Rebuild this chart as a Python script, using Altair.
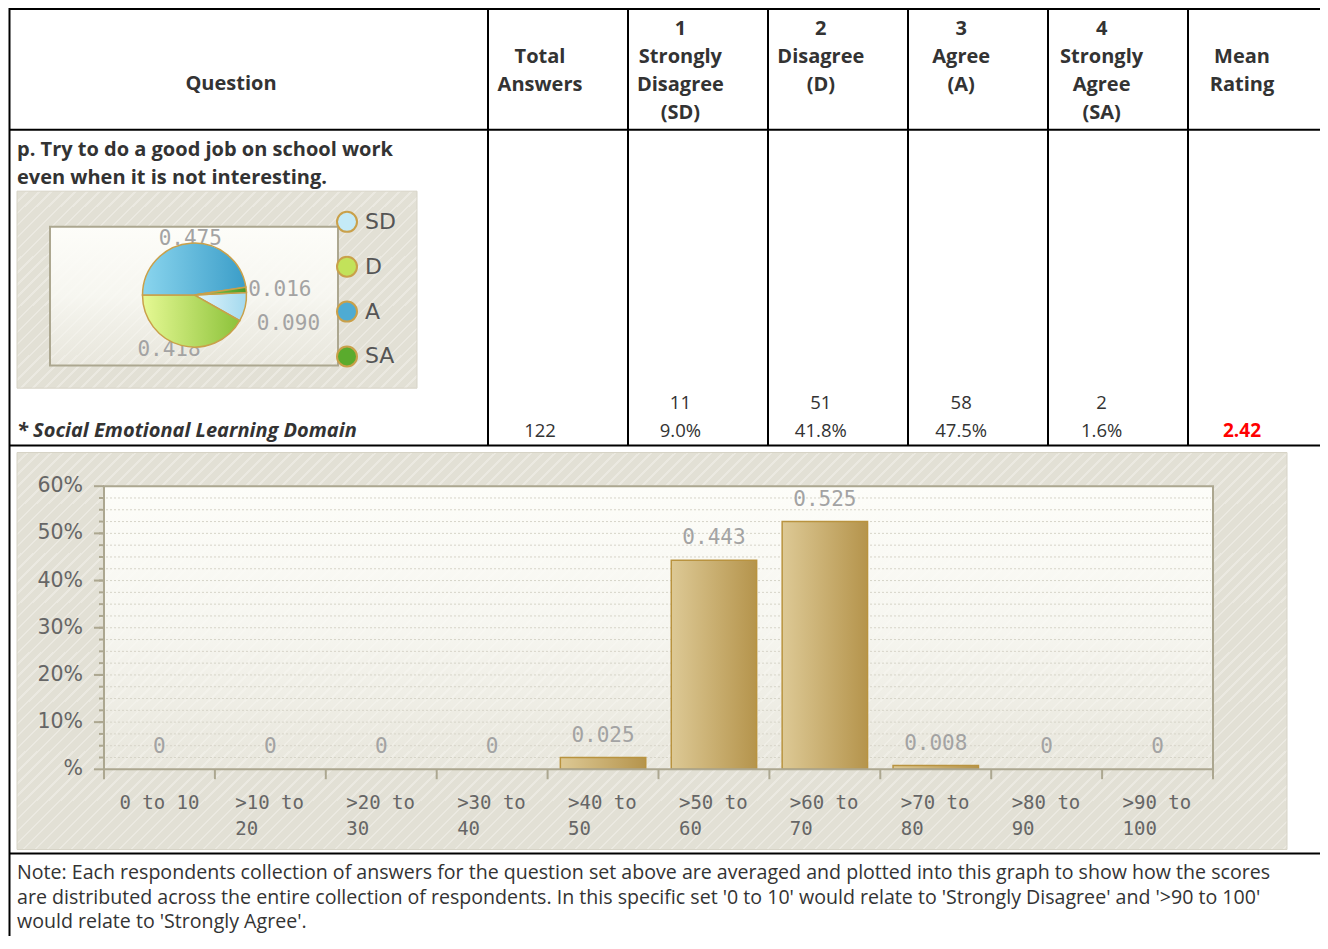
import math
import altair as alt
import pandas as pd

# ---------------- data ----------------
options = ["SD", "D", "A", "SA"]
option_counts = [11, 51, 58, 2]
option_pcts = ["9.0%", "41.8%", "47.5%", "1.6%"]
total_answers = "122"
mean_rating = "2.42"
pie_shares = [0.090, 0.418, 0.475, 0.016]

bins = ["0 to 10", ">10 to 20", ">20 to 30", ">30 to 40", ">40 to 50",
        ">50 to 60", ">60 to 70", ">70 to 80", ">80 to 90", ">90 to 100"]
bin_shares = [0, 0, 0, 0, 0.025, 0.443, 0.525, 0.008, 0, 0]

y_ticks = [0, 0.1, 0.2, 0.3, 0.4, 0.5, 0.6]
y_tick_labels = ["%", "10%", "20%", "30%", "40%", "50%", "60%"]
grid_levels = [0.025, 0.05, 0.075, 0.1, 0.125, 0.15, 0.175, 0.2, 0.225, 0.25,
               0.275, 0.3, 0.325, 0.35, 0.375, 0.4, 0.425, 0.45, 0.475, 0.5,
               0.525, 0.55, 0.575]

table_cols = ["total", "SD", "D", "A", "SA", "mean"]
header_labels = ["\nTotal\nAnswers\n", "1\nStrongly\nDisagree\n(SD)", "2\n\nDisagree\n(D)",
                 "3\n\nAgree\n(A)", "4\nStrongly\nAgree\n(SA)", "\nMean\nRating\n"]
question_lines = ["p. Try to do a good job on school work", "even when it is not interesting."]
domain_text = "* Social Emotional Learning Domain"
note_lines = [
    "Note: Each respondents collection of answers for the question set above are averaged and plotted into this graph to show how the scores",
    "are distributed across the entire collection of respondents. In this specific set '0 to 10' would relate to 'Strongly Disagree' and '>90 to 100'",
    "would relate to 'Strongly Agree'.",
]

# ---------------- layout helpers ----------------
W, H = 1312, 928


def X(x):
    return x - 5.0


def Y(y):
    return 1 + (y - 5) * 0.99


MONO = "DejaVu Sans Mono"
SANS = "Open Sans"
dummy = pd.DataFrame({"d": [0]})


def rect(x0, y0, x1, y1, **kw):
    return alt.Chart(dummy).mark_rect(**kw).encode(
        x=alt.value(X(x0)), x2=alt.value(X(x1)), y=alt.value(Y(y0)), y2=alt.value(Y(y1)))


def hline(x0, x1, y, **kw):
    return alt.Chart(dummy).mark_rule(**kw).encode(
        x=alt.value(X(x0)), x2=alt.value(X(x1)), y=alt.value(Y(y)))


def vline(x, y0, y1, **kw):
    return alt.Chart(dummy).mark_rule(**kw).encode(
        x=alt.value(X(x)), y=alt.value(Y(y0)), y2=alt.value(Y(y1)))


def label(text, x, y, **kw):
    return alt.Chart(dummy).mark_text(text=text, **kw).encode(
        x=alt.value(X(x)), y=alt.value(Y(y)))


def hgrad(c0, c1):
    return alt.LinearGradient(gradient="linear", x1=0, y1=0, x2=1, y2=0,
                              stops=[alt.GradientStop(color=c0, offset=0),
                                     alt.GradientStop(color=c1, offset=1)])


def vgrad(stops):
    return alt.LinearGradient(gradient="linear", x1=0, y1=0, x2=0, y2=1,
                              stops=[alt.GradientStop(color=c, offset=o) for o, c in stops])


def hatch(w, h, period=12.0, line=2.5, bg="#e2e0d5", fg="#ebe9e1"):
    r = h / w
    s = (w + h) / (w * (1 + r * r))
    n = int((w + h) / period) + 1
    dt = period / (w + h)
    stops = []
    for k in range(n):
        a = min(k * dt, 1)
        b = min(k * dt + dt * (1 - line / period), 1)
        c = min((k + 1) * dt, 1)
        stops += [alt.GradientStop(color=bg, offset=a), alt.GradientStop(color=bg, offset=b),
                  alt.GradientStop(color=fg, offset=b), alt.GradientStop(color=fg, offset=c)]
    return alt.LinearGradient(gradient="linear", x1=0, y1=0, x2=s, y2=s * r, stops=stops)


layers = []

# ---------------- panels ----------------
plot_overlay = vgrad([(0, "rgba(253,253,249,1)"), (0.5, "rgba(250,250,245,0.85)"),
                      (1, "rgba(246,245,238,0.3)")])
AXIS_C = "#aca790"

# pie panel
layers.append(rect(14, 189, 414, 388, fill=hatch(400, 199), stroke="#d6d3c6", strokeWidth=1))
layers.append(rect(47, 225, 335, 365, fill=plot_overlay, stroke=AXIS_C, strokeWidth=2))
# bar panel
layers.append(rect(14, 453, 1284, 854, fill=hatch(1270, 401), stroke="#d6d3c6", strokeWidth=1))
layers.append(rect(101, 487, 1210, 773, fill=plot_overlay))

# ---------------- bar chart ----------------
bar_df = pd.DataFrame({"bin": bins, "share": bin_shares})
x_band = alt.Scale(domain=bins, range=[X(101), X(1210)], paddingInner=0.23, paddingOuter=0.115)
x_cells = alt.Scale(domain=bins, range=[X(101), X(1210)], paddingInner=0, paddingOuter=0)
y_lin = alt.Scale(domain=[0, 0.6], range=[Y(773), Y(487)], nice=False, zero=False)

grid_df = pd.DataFrame({"v": grid_levels})
layers.append(alt.Chart(grid_df).mark_rule(color="#d6d4c8", strokeWidth=1, strokeDash=[2, 2]).encode(
    y=alt.Y("v:Q", scale=y_lin, axis=None), x=alt.value(X(103)), x2=alt.value(X(1208))))

layers.append(alt.Chart(bar_df).transform_filter("datum.share > 0").mark_bar(
    fill=hgrad("#ddc995", "#b5944c"), stroke="#b9933f", strokeWidth=1.5).encode(
    x=alt.X("bin:N", scale=x_band, axis=None),
    y=alt.Y("share:Q", scale=y_lin, axis=None)))

# plot frame / axes
layers.append(rect(101, 487, 1210, 773, fill="transparent", stroke=AXIS_C, strokeWidth=2))
layers.append(alt.Chart(grid_df).mark_rule(color=AXIS_C, strokeWidth=2).encode(
    y=alt.Y("v:Q", scale=y_lin, axis=None), x=alt.value(X(96)), x2=alt.value(X(101))))
tick_df = pd.DataFrame({"v": y_ticks, "lbl": y_tick_labels})
layers.append(alt.Chart(tick_df).mark_rule(color=AXIS_C, strokeWidth=2).encode(
    y=alt.Y("v:Q", scale=y_lin, axis=None), x=alt.value(X(91)), x2=alt.value(X(101))))
layers.append(alt.Chart(tick_df).mark_text(font="DejaVu Sans", fontSize=20.5, color="#666666",
                                           align="right", baseline="middle").encode(
    y=alt.Y("v:Q", scale=y_lin, axis=None), x=alt.value(X(80)), text="lbl:N"))

layers.append(alt.Chart(bar_df).mark_rule(color=AXIS_C, strokeWidth=2).encode(
    x=alt.X("bin:N", scale=x_cells, axis=None, bandPosition=0),
    y=alt.value(Y(773)), y2=alt.value(Y(783))))
layers.append(alt.Chart(bar_df).transform_filter(alt.datum.bin == bins[-1]).mark_rule(
    color=AXIS_C, strokeWidth=2).encode(
    x=alt.X("bin:N", scale=x_cells, axis=None, bandPosition=1),
    y=alt.value(Y(773)), y2=alt.value(Y(783))))

layers.append(alt.Chart(bar_df).transform_filter(alt.datum.bin == bins[0]).mark_text(
    font=MONO, fontSize=19, color="#666666", align="center", baseline="alphabetic").encode(
    x=alt.X("bin:N", scale=x_band, axis=None), y=alt.value(Y(813)), text="bin:N"))
layers.append(alt.Chart(bar_df).transform_filter(alt.datum.bin != bins[0]).transform_calculate(
    lbl="replace(datum.bin, ' to ', ' to\\n')").mark_text(
    font=MONO, fontSize=19, color="#666666", align="left", baseline="alphabetic",
    lineBreak="\n", lineHeight=26, dx=-35).encode(
    x=alt.X("bin:N", scale=x_band, axis=None), y=alt.value(Y(813)), text="lbl:N"))

layers.append(alt.Chart(bar_df).transform_calculate(
    lbl="datum.share == 0 ? '0' : format(datum.share, '.3f')").mark_text(
    font=MONO, fontSize=21, color="#a3a3a3", baseline="middle", dy=-22).encode(
    x=alt.X("bin:N", scale=x_band, axis=None),
    y=alt.Y("share:Q", scale=y_lin, axis=None), text="lbl:N"))

# ---------------- pie chart ----------------
CX, CY, R = X(191.5), Y(294), 52
START = math.radians(87)
theta_scale = alt.Scale(domain=[0, 1], range=[START, START + 2 * math.pi])
pie_df = pd.DataFrame({"opt": options, "share": pie_shares, "idx": [0, 1, 2, 3]})
pie_base = alt.Chart(pie_df).transform_window(
    cum="sum(share)", sort=[alt.SortField("idx")], frame=[None, 0]
).transform_joinaggregate(tot="sum(share)").transform_calculate(
    t0="(datum.cum - datum.share) / datum.tot",
    t1="datum.cum / datum.tot",
    tm="(datum.cum - datum.share / 2) / datum.tot",
    lbl="format(datum.share, '.3f')")

pie_label_layout = {"SD": (64, "left", 0, 14), "D": (57, "center", -11, 0),
                    "A": (56, "center", 0, 0), "SA": (54, "left", 0, 0)}
for o in options:
    rr, al, ddx, ddy = pie_label_layout[o]
    layers.append(pie_base.transform_filter(alt.datum.opt == o).mark_text(
        radius=rr, align=al, baseline="middle", dx=ddx, dy=ddy,
        font=MONO, fontSize=21, color="#a3a3a3").encode(
        theta=alt.Theta("tm:Q", scale=theta_scale, stack=None),
        x=alt.value(CX), y=alt.value(CY), text="lbl:N"))

slice_fill = {"SD": hgrad("#e2f5fc", "#a3d9ee"), "D": hgrad("#e6f994", "#8cc23a"),
              "A": hgrad("#8ad5ee", "#3b9dc8"), "SA": hgrad("#86cf52", "#4a9a28")}
for o in options:
    layers.append(pie_base.transform_filter(alt.datum.opt == o).mark_arc(
        outerRadius=R, fill=slice_fill[o], stroke="#c9a04a", strokeWidth=1.5).encode(
        theta=alt.Theta("t0:Q", scale=theta_scale, stack=None), theta2="t1:Q",
        x=alt.value(CX), y=alt.value(CY)))

leg_scale = alt.Scale(domain=options, range=[Y(220), Y(356)], type="point", padding=0)
leg_df = pd.DataFrame({"opt": options})
layers.append(alt.Chart(leg_df).mark_point(filled=True, size=400, shape="circle", opacity=1,
                                           stroke="#c9a04a", strokeWidth=2).encode(
    y=alt.Y("opt:N", scale=leg_scale, axis=None), x=alt.value(X(344)),
    color=alt.Color("opt:N", scale=alt.Scale(domain=options,
                                             range=["#c4eaf7", "#c2e25a", "#4eabd3", "#5aab2d"]),
                    legend=None)))
layers.append(alt.Chart(leg_df).mark_text(font="DejaVu Sans", fontSize=22, color="#555555",
                                          align="left", baseline="middle").encode(
    y=alt.Y("opt:N", scale=leg_scale, axis=None), x=alt.value(X(362)), text="opt:N"))

# ---------------- table ----------------
LINE = dict(color="#000000", strokeWidth=2)
for yy in [5, 127, 446, 858]:
    layers.append(hline(6, 1335, yy, **LINE))
layers.append(vline(6.5, 4, 960, **LINE))
for xx in [485, 625, 765, 905, 1045, 1185]:
    layers.append(vline(xx, 4, 446, **LINE))

col_scale = alt.Scale(domain=table_cols, range=[X(537), X(1239)], type="point", padding=0)
hdr_df = pd.DataFrame({"col": table_cols, "txt": header_labels})
layers.append(label("Question", 228, 81, font=SANS, fontSize=20, fontWeight="bold",
                    color="#333333", baseline="middle"))
layers.append(alt.Chart(hdr_df).mark_text(font=SANS, fontSize=20, fontWeight="bold", color="#333333",
                                          baseline="middle", lineBreak="\n", lineHeight=28).encode(
    x=alt.X("col:N", scale=col_scale, axis=None), y=alt.value(Y(25)), text="txt:N"))

layers.append(label(question_lines, 14, 147, font=SANS, fontSize=20, fontWeight="bold",
                    color="#333333", align="left", baseline="middle", lineHeight=28))
layers.append(label(domain_text, 14, 431, font=SANS, fontSize=20, fontWeight="bold",
                    fontStyle="italic", color="#333333", align="left", baseline="middle"))

cnt_df = pd.DataFrame({"col": options, "cnt": [str(c) for c in option_counts], "pct": option_pcts})
layers.append(alt.Chart(cnt_df).mark_text(font=SANS, fontSize=18.5, color="#333333",
                                          baseline="middle").encode(
    x=alt.X("col:N", scale=col_scale, axis=None), y=alt.value(Y(403)), text="cnt:N"))
layers.append(alt.Chart(cnt_df).mark_text(font=SANS, fontSize=18.5, color="#333333",
                                          baseline="middle").encode(
    x=alt.X("col:N", scale=col_scale, axis=None), y=alt.value(Y(431)), text="pct:N"))
tot_df = pd.DataFrame({"col": ["total"], "txt": [total_answers]})
layers.append(alt.Chart(tot_df).mark_text(font=SANS, fontSize=18.5, color="#333333",
                                          baseline="middle").encode(
    x=alt.X("col:N", scale=col_scale, axis=None), y=alt.value(Y(431)), text="txt:N"))
mean_df = pd.DataFrame({"col": ["mean"], "txt": [mean_rating]})
layers.append(alt.Chart(mean_df).mark_text(font=SANS, fontSize=19, fontWeight="bold", color="#ff0000",
                                           baseline="middle").encode(
    x=alt.X("col:N", scale=col_scale, axis=None), y=alt.value(Y(431)), text="txt:N"))

note = alt.Chart(dummy).mark_text(text=note_lines, font=SANS, fontSize=19.6, color="#333333",
                                  align="left", baseline="middle", lineHeight=24.5).encode(
    x=alt.value(X(14)), y=alt.value(Y(879) - 1))
layers.append(note)

chart = alt.layer(*layers).resolve_scale(
    x="independent", y="independent", theta="independent", color="independent"
).properties(
    width=W, height=H, autosize=alt.AutoSizeParams(type="none"), padding=0, background="white"
).configure_view(strokeWidth=0)

chart.save("out.html", embed_options={"renderer": "svg", "actions": False})
